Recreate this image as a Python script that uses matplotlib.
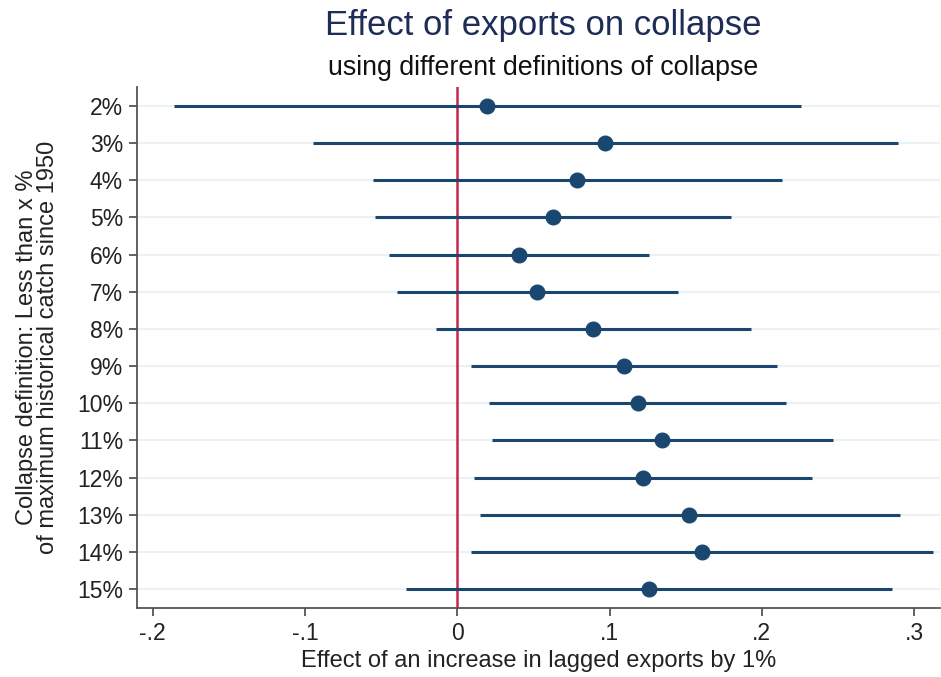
import matplotlib.pyplot as plt

# collapse threshold categories (top to bottom)
categories = ["2%", "3%", "4%", "5%", "6%", "7%", "8%", "9%",
              "10%", "11%", "12%", "13%", "14%", "15%"]

# point estimates and 95% CI bounds
estimates = [0.0197, 0.0968, 0.0784, 0.0626, 0.0405, 0.0525, 0.0892,
             0.1096, 0.1184, 0.1345, 0.1220, 0.1522, 0.1605, 0.1260]
ci_low = [-0.1862, -0.0950, -0.0554, -0.0539, -0.0447, -0.0393, -0.0139,
          0.0087, 0.0209, 0.0228, 0.0110, 0.0150, 0.0090, -0.0336]
ci_high = [0.2258, 0.2892, 0.2130, 0.1797, 0.1260, 0.1446, 0.1927,
           0.2102, 0.2156, 0.2466, 0.2331, 0.2908, 0.3123, 0.2856]

x_ticks = [-0.2, -0.1, 0, 0.1, 0.2, 0.3]
x_tick_labels = ["-.2", "-.1", "0", ".1", ".2", ".3"]

navy = "#1a476f"
plt.rcParams['font.family'] = ['Liberation Sans', 'DejaVu Sans']

fig = plt.figure(figsize=(9.41, 6.77), dpi=100)
ax = fig.add_axes([0.1456, 0.1024, 0.8534, 0.7686])

ypos = list(range(1, len(categories) + 1))

for y in ypos:
    ax.axhline(y, color="#ecf2f4", lw=1.5, zorder=0)

ax.axvline(0, color="#c8254a", lw=1.8, zorder=1)
ax.hlines(ypos, ci_low, ci_high, color=navy, lw=2.2, zorder=2)
ax.plot(estimates, ypos, "o", color=navy, ms=10.5, zorder=3)

ax.set_xlim(-0.2103, 0.317)
ax.set_ylim(len(categories) + 0.5, 0.5)

ax.set_yticks(ypos)
ax.set_yticklabels(categories)
ax.set_xticks(x_ticks)
ax.set_xticklabels(x_tick_labels)

for side in ["top", "right"]:
    ax.spines[side].set_visible(False)
for side in ["left", "bottom"]:
    ax.spines[side].set_color("#555555")
    ax.spines[side].set_linewidth(1.3)

ax.tick_params(axis="both", length=6, width=1.3, color="#555555",
               labelsize=16.5, labelcolor="#222222", pad=4)

ax.set_xlabel("Effect of an increase in lagged exports by 1%",
              fontsize=17, color="#222222", labelpad=4)
ax.set_ylabel("Collapse definition: Less than x %\nof maximum historical catch since 1950",
              fontsize=17, color="#222222", linespacing=0.95)
ax.yaxis.set_label_coords(-0.097, 0.5)

fig.text(0.577, 0.962, "Effect of exports on collapse", ha="center", va="center",
         fontsize=25, color="#1e2d55")
fig.text(0.577, 0.9, "using different definitions of collapse", ha="center", va="center",
         fontsize=19.3, color="#111111")

fig.savefig("out.png", dpi=100)
